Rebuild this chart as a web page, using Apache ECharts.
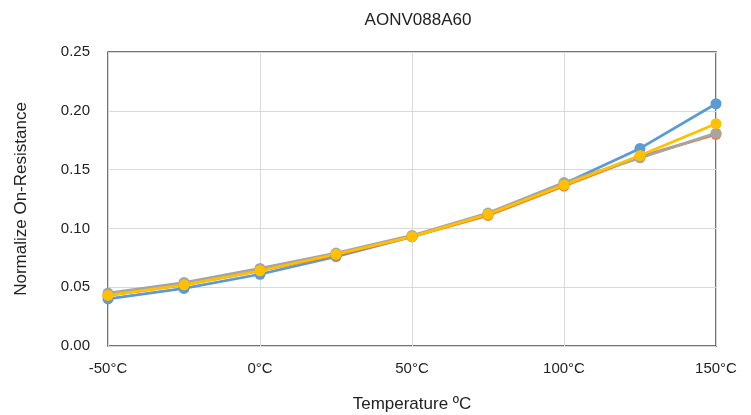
<!DOCTYPE html>
<html>
<head>
<meta charset="utf-8">
<script src="https://cdn.jsdelivr.net/npm/echarts@6/dist/echarts.min.js"></script>
<style>html,body{margin:0;padding:0;background:#fff}#c{width:751px;height:415px}</style>
</head>
<body>
<div id="c"></div>
<script>
var temps = [-50, -25, 0, 25, 50, 75, 100, 125, 150];
var seriesNames = ['S1', 'S2', 'S3', 'S4'];
var blueVals   = [0.040, 0.049, 0.061, 0.076, 0.093, 0.112, 0.138, 0.168, 0.206];
var orangeVals = [0.043, 0.052, 0.064, 0.077, 0.093, 0.111, 0.136, 0.161, 0.180];
var grayVals   = [0.045, 0.054, 0.066, 0.079, 0.094, 0.113, 0.139, 0.160, 0.181];
var yellowVals = [0.043, 0.052, 0.064, 0.078, 0.093, 0.112, 0.137, 0.162, 0.189];
var colors = ['#5B9BD5', '#ED7D31', '#A5A5A5', '#FFC000'];
var allVals = [blueVals, orangeVals, grayVals, yellowVals];

function pairs(v) { return temps.map(function (t, i) { return [t, v[i]]; }); }

var FONT = 'Liberation Sans, Arial';
var chart = echarts.init(document.getElementById('c'));
chart.setOption({
  animation: false,
  title: {
    text: 'AONV088A60', left: 413, top: 7, textAlign: 'center',
    textStyle: { fontFamily: FONT, fontSize: 17, fontWeight: 'normal', color: '#222' }
  },
  grid: { left: 108, right: 35, top: 52, bottom: 69, show: true, borderColor: '#444', borderWidth: 1.5, outerBoundsMode: 'none', containLabel: false },
  xAxis: {
    type: 'value', min: -50, max: 150, interval: 50,
    name: 'Temperature ºC', nameLocation: 'middle', nameGap: 50,
    nameTextStyle: { fontFamily: FONT, fontSize: 17, color: '#222' },
    axisLine: { show: false }, axisTick: { show: false },
    axisLabel: { formatter: '{value}°C', margin: 15, fontFamily: FONT, fontSize: 15, color: '#222' },
    splitLine: { show: true, lineStyle: { color: '#d9d9d9', width: 1 } }
  },
  yAxis: {
    type: 'value', min: 0, max: 0.25, interval: 0.05,
    name: 'Normalize On-Resistance', nameLocation: 'middle', nameGap: 78,
    nameTextStyle: { fontFamily: FONT, fontSize: 17, color: '#222' },
    axisLine: { show: false }, axisTick: { show: false },
    axisLabel: { formatter: function (v) { return v.toFixed(2); }, margin: 18, fontFamily: FONT, fontSize: 15, color: '#222' },
    splitLine: { show: true, lineStyle: { color: '#d9d9d9', width: 1 } }
  },
  series: allVals.map(function (v, i) {
    return {
      name: seriesNames[i], type: 'line', data: pairs(v),
      symbol: 'circle', symbolSize: 11,
      lineStyle: { color: colors[i], width: 2.75 },
      itemStyle: { color: colors[i] }
    };
  })
});
</script>
</body>
</html>
